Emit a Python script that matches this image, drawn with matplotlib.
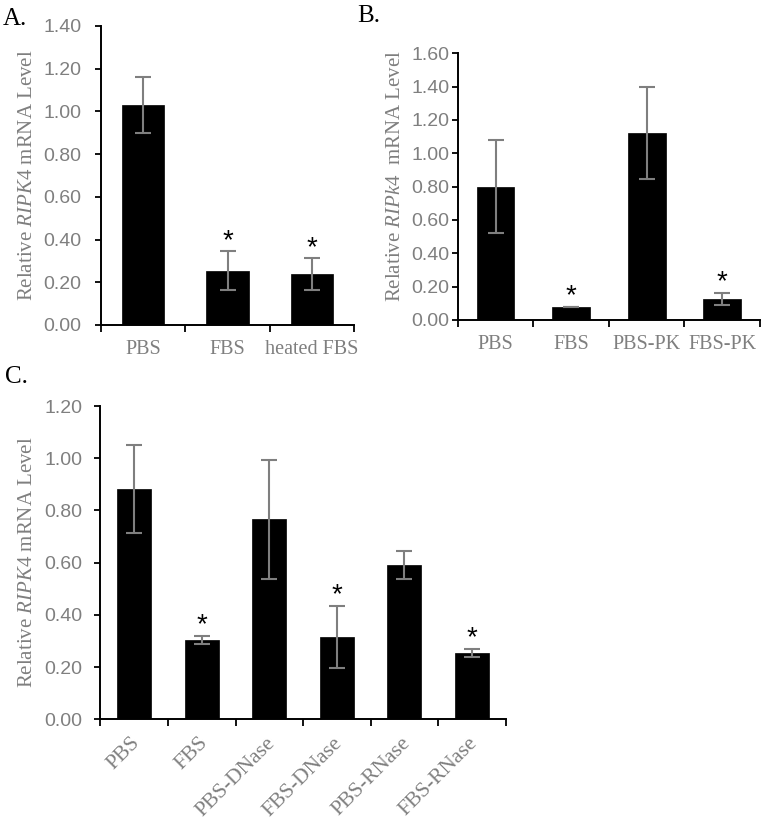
import matplotlib
matplotlib.use("Agg")
import matplotlib.pyplot as plt
import matplotlib.transforms as mtransforms
import numpy as np

plt.rcParams["mathtext.fontset"] = "custom"
plt.rcParams["mathtext.rm"] = "Liberation Serif"
plt.rcParams["mathtext.it"] = "Liberation Serif:italic"

# Panel A
a_labels = ["PBS", "FBS", "heated FBS"]
a_vals = [1.03, 0.255, 0.237]
a_errs = [0.13, 0.09, 0.075]
a_star = [False, True, True]

# Panel B
b_labels = ["PBS", "FBS", "PBS-PK", "FBS-PK"]
b_vals = [0.80, 0.078, 1.12, 0.125]
b_errs = [0.28, 0.0, 0.277, 0.036]
b_star = [False, True, False, True]

# Panel C
c_labels = ["PBS", "FBS", "PBS-DNase", "FBS-DNase", "PBS-RNase", "FBS-RNase"]
c_vals = [0.882, 0.305, 0.767, 0.315, 0.591, 0.254]
c_errs = [0.168, 0.015, 0.228, 0.12, 0.052, 0.016]
c_star = [False, True, False, True, False, True]

GRAY = "#7f7f7f"
SANS = "Liberation Sans"
SERIF = "Liberation Serif"

fig = plt.figure(figsize=(7.63, 8.19), dpi=100)


def panel(rect, labels, vals, errs, stars, ymax, ylabel, ypad, lab_x,
          lab_y=0.5, rotate=False):
    ax = fig.add_axes(rect)
    x = np.arange(len(labels))
    ax.bar(x, vals, width=0.5, color="black", edgecolor="black", lw=0.5,
           zorder=2)
    ax.errorbar(x, vals, yerr=errs, fmt="none", ecolor=GRAY, elinewidth=1.5,
                capsize=5.5, capthick=1.5, zorder=3)
    for xi, v, e, s in zip(x, vals, errs, stars):
        if s:
            ax.annotate("*", (xi, v + e), xytext=(0, 2.5),
                        textcoords="offset points", ha="center",
                        va="baseline", fontsize=20, family=SANS,
                        color="black")
    ax.set_xlim(-0.5, len(labels) - 0.5)
    ax.set_ylim(0, ymax)
    ax.set_yticks(np.arange(0, ymax + 0.001, 0.2))
    ax.set_yticklabels([f"{t:.2f}" for t in np.arange(0, ymax + 0.001, 0.2)],
                       family=SANS, fontsize=14, color=GRAY)
    ax.set_xticks(x)
    ax.set_xticks(np.arange(-0.5, len(labels), 1.0), minor=True)
    ax.tick_params(axis="x", which="major", length=0, pad=11)
    ax.tick_params(axis="x", which="minor", length=5, width=1.3,
                   direction="out")
    ax.tick_params(axis="y", length=4, width=1.3, pad=ypad)
    if rotate:
        ax.set_xticklabels(labels, family=SERIF, fontsize=15.5, color=GRAY,
                           rotation=45, ha="right", va="center",
                           rotation_mode="anchor")
        ax.tick_params(axis="x", which="major", pad=15)
        shift = mtransforms.ScaledTranslation(3 / 100, 0, fig.dpi_scale_trans)
        for t in ax.get_xticklabels():
            t.set_transform(t.get_transform() + shift)
    else:
        ax.set_xticklabels(labels, family=SERIF, fontsize=14.5, color=GRAY)
    for sp in ["top", "right"]:
        ax.spines[sp].set_visible(False)
    for sp in ["left", "bottom"]:
        ax.spines[sp].set_linewidth(1.4)
        ax.spines[sp].set_color("black")
    ax.set_ylabel(ylabel, family=SERIF, fontsize=15, color=GRAY, va="center")
    ax.yaxis.set_label_coords(lab_x, lab_y)
    return ax


panel([0.1324, 0.6032, 0.3316, 0.3651], a_labels, a_vals, a_errs, a_star,
      1.4, r"Relative $\mathit{RIPK4}$ mRNA Level", 10, -0.2925)
panel([0.5999, 0.6093, 0.3962, 0.3256], b_labels, b_vals, b_errs, b_star,
      1.6, r"Relative $\mathit{RIPk4}$  mRNA Level", 2, -0.207, 0.54)
panel([0.1317, 0.1217, 0.5310, 0.3825], c_labels, c_vals, c_errs, c_star,
      1.2, r"Relative $\mathit{RIPK4}$ mRNA Level", 9, -0.181, rotate=True)

for lbl, px, py in [("A.", 3, 25), ("B.", 357, 22), ("C.", 5, 383)]:
    fig.text(px / 763, 1 - py / 819, lbl, family=SERIF, fontsize=18,
             color="black", ha="left", va="baseline")

fig.savefig("out.png", dpi=100)
